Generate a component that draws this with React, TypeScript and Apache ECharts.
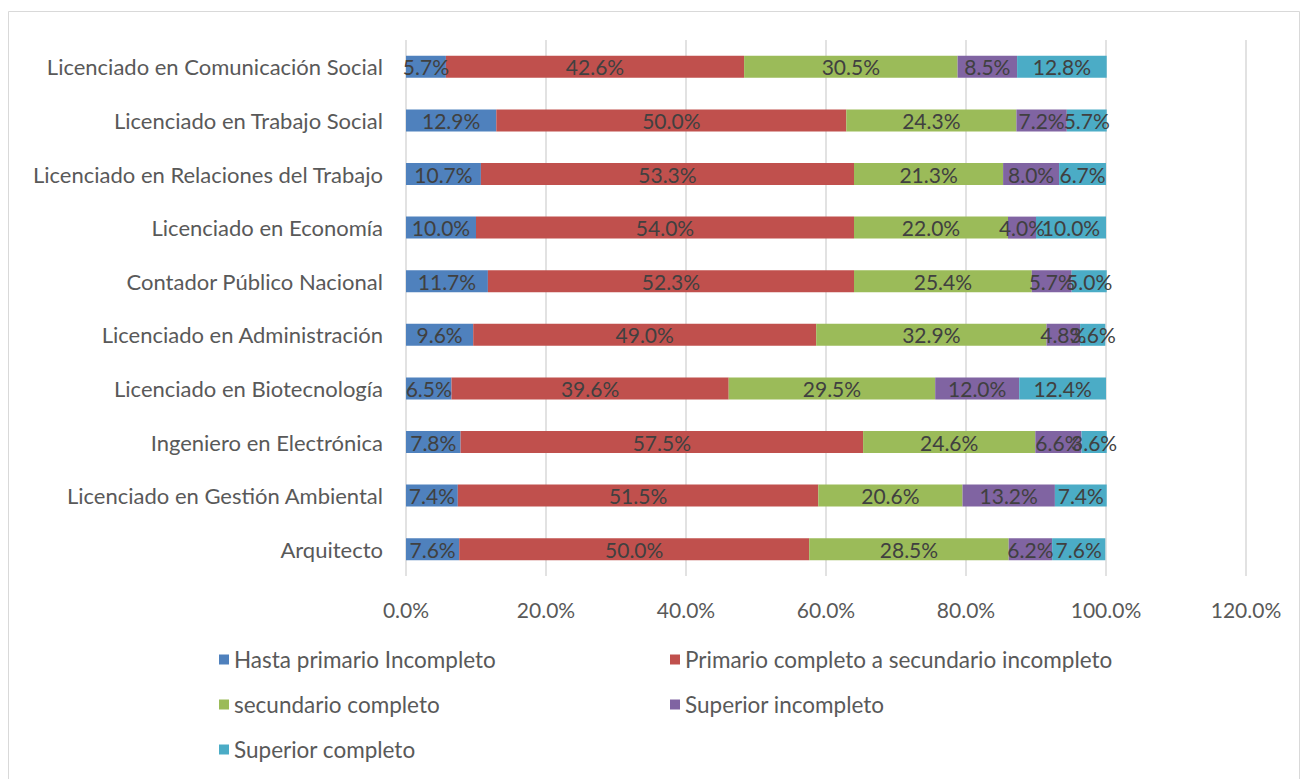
import React, { useEffect, useRef } from "react";
import * as echarts from "echarts";

const categories = [
  "Arquitecto",
  "Licenciado en Gestión Ambiental",
  "Ingeniero en Electrónica",
  "Licenciado en Biotecnología",
  "Licenciado en Administración",
  "Contador Público Nacional",
  "Licenciado en Economía",
  "Licenciado en Relaciones del Trabajo",
  "Licenciado en Trabajo Social",
  "Licenciado en Comunicación Social",
];

const seriesNames = [
  "Hasta primario Incompleto",
  "Primario completo a secundario incompleto",
  "secundario completo",
  "Superior incompleto",
  "Superior completo",
];

const hastaPrimario = [7.6, 7.4, 7.8, 6.5, 9.6, 11.7, 10.0, 10.7, 12.9, 5.7];
const primarioCompleto = [50.0, 51.5, 57.5, 39.6, 49.0, 52.3, 54.0, 53.3, 50.0, 42.6];
const secundarioCompleto = [28.5, 20.6, 24.6, 29.5, 32.9, 25.4, 22.0, 21.3, 24.3, 30.5];
const superiorIncompleto = [6.2, 13.2, 6.6, 12.0, 4.8, 5.7, 4.0, 8.0, 7.2, 8.5];
const superiorCompleto = [7.6, 7.4, 3.6, 12.4, 3.6, 5.0, 10.0, 6.7, 5.7, 12.8];

const xTicks = { min: 0, max: 120, interval: 20 };

const colors = ["#4f81bd", "#c0504d", "#9bbb59", "#8064a2", "#4bacc6"];
const FONT = "Lato";

export default function App() {
  const ref = useRef<HTMLDivElement>(null);
  useEffect(() => {
    if (!ref.current) return;
    const chart = echarts.init(ref.current, null, { renderer: "svg" });
    const allData = [hastaPrimario, primarioCompleto, secundarioCompleto, superiorIncompleto, superiorCompleto];
    const legendPos = [
      { left: 214, top: 643 },
      { left: 665, top: 643 },
      { left: 214, top: 688 },
      { left: 665, top: 688 },
      { left: 214, top: 733 },
    ];
    chart.setOption({
      animation: false,
      color: colors,
      textStyle: { fontFamily: FONT },
      graphic: [
        {
          type: "rect",
          shape: { x: 8.5, y: 11.5, width: 1291, height: 800 },
          style: { fill: "none", stroke: "#d9d9d9", lineWidth: 1 },
          silent: true,
        },
      ],
      legend: seriesNames.map((n, i) => ({
        data: [n],
        left: legendPos[i].left,
        top: legendPos[i].top,
        icon: "rect",
        itemWidth: 10,
        itemHeight: 10,
        itemGap: 10,
        itemStyle: { borderWidth: 0 },
        textStyle: { fontSize: 22.5, color: "#595959", fontFamily: FONT },
        selectedMode: false,
      })),
      grid: { left: 406, right: 55, top: 40, height: 536, containLabel: false },
      xAxis: {
        type: "value",
        min: xTicks.min,
        max: xTicks.max,
        interval: xTicks.interval,
        axisLine: { show: false },
        axisTick: { show: false },
        splitLine: { lineStyle: { color: "#d9d9d9", width: 1.5 } },
        axisLabel: {
          formatter: (v: number) => v.toFixed(1) + "%",
          fontSize: 21,
          color: "#595959",
          margin: 23,
          fontFamily: FONT,
        },
      },
      yAxis: {
        type: "category",
        data: categories,
        axisLine: { show: false },
        axisTick: { show: false },
        axisLabel: { fontSize: 22, color: "#595959", margin: 23, fontFamily: FONT },
      },
      series: seriesNames.map((n, i) => ({
        name: n,
        type: "bar",
        stack: "total",
        barWidth: 22,
        data: allData[i],
        itemStyle: { color: colors[i] },
        label: {
          show: true,
          position: "inside",
          formatter: (p: any) => Number(p.value).toFixed(1) + "%",
          fontSize: 21,
          color: "#404040",
          fontFamily: FONT,
        },
        labelLayout: { hideOverlap: false },
      })),
    });
    return () => chart.dispose();
  }, []);
  return (
    <div
      ref={ref}
      style={{ position: "absolute", left: 0, top: 0, width: 1301, height: 779, background: "#fff" }}
    />
  );
}
